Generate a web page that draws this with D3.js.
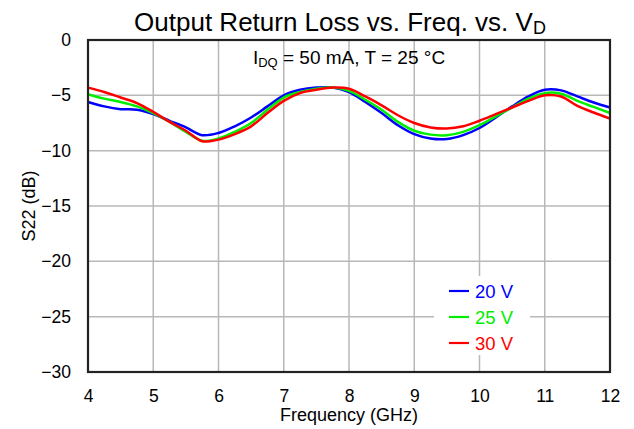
<!DOCTYPE html>
<html lang="en">
<head>
<meta charset="UTF-8">
<title>Output Return Loss vs. Freq. vs. VD</title>
<script src="https://cdn.jsdelivr.net/npm/d3@7"></script>
<style>
  body { margin: 0; background: #fff; }
  text { font-family: "Liberation Sans", Arial, sans-serif; fill: #000; }
  .grid line { stroke: #b8b8b8; stroke-width: 1.5px; }
</style>
</head>
<body>
<svg width="634" height="429"></svg>
<script>
// frequency points (GHz)
var freq = [4, 4.25, 4.5, 4.75, 5, 5.25, 5.5, 5.75, 6, 6.25, 6.5, 6.75, 7, 7.25, 7.5, 7.75,
            8, 8.25, 8.5, 8.75, 9, 9.25, 9.5, 9.75, 10, 10.25, 10.5, 10.75, 11, 11.25, 11.5, 11.75, 12];

// S22 (dB) per drain voltage
var s22_20V = [-5.6, -6.0, -6.25, -6.3, -6.7, -7.3, -7.9, -8.6, -8.4, -7.8, -7.0, -6.0, -5.0, -4.5, -4.3, -4.3,
               -4.7, -5.6, -6.6, -7.7, -8.5, -8.9, -8.95, -8.6, -7.95, -7.0, -6.0, -5.1, -4.5, -4.55, -5.1, -5.65, -6.1];
var s22_25V = [-4.9, -5.3, -5.6, -6.0, -6.6, -7.4, -8.3, -9.1, -8.9, -8.3, -7.5, -6.3, -5.2, -4.7, -4.4, -4.3,
               -4.6, -5.4, -6.3, -7.4, -8.2, -8.55, -8.6, -8.3, -7.7, -6.9, -6.1, -5.3, -4.8, -4.85, -5.5, -6.05, -6.6];
var s22_30V = [-4.3, -4.7, -5.2, -5.7, -6.5, -7.4, -8.2, -9.15, -9.0, -8.5, -7.8, -6.6, -5.5, -4.8, -4.5, -4.3,
               -4.4, -5.1, -5.9, -6.8, -7.5, -7.9, -8.0, -7.8, -7.3, -6.7, -6.1, -5.5, -5.0, -5.1, -5.95, -6.55, -7.1];

var seriesNames = ["20 V", "25 V", "30 V"];
var seriesColors = ["#0000ff", "#00ee00", "#ff0000"];

var xTicks = [4, 5, 6, 7, 8, 9, 10, 11, 12];
var yTicks = [0, -5, -10, -15, -20, -25, -30];

var svg = d3.select("svg");
var plot = { left: 88, right: 610, top: 40, bottom: 372 };

var x = d3.scaleLinear().domain([4, 12]).range([plot.left, plot.right]);
var y = d3.scaleLinear().domain([-30, 0]).range([plot.bottom, plot.top]);

// grid
var grid = svg.append("g").attr("class", "grid");
grid.selectAll(".vx").data(xTicks).enter().append("line")
    .attr("x1", function(d) { return x(d); }).attr("x2", function(d) { return x(d); })
    .attr("y1", plot.top).attr("y2", plot.bottom);
grid.selectAll(".hy").data(yTicks).enter().append("line")
    .attr("x1", plot.left).attr("x2", plot.right)
    .attr("y1", function(d) { return y(d); }).attr("y2", function(d) { return y(d); });

// axes (labels only, no tick marks)
var xAxis = svg.append("g")
    .attr("transform", "translate(0," + plot.bottom + ")")
    .call(d3.axisBottom(x).tickValues(xTicks).tickSize(0).tickPadding(18).tickFormat(d3.format("d")));
var yAxis = svg.append("g")
    .attr("transform", "translate(" + plot.left + ",0)")
    .call(d3.axisLeft(y).tickValues(yTicks).tickSize(0).tickPadding(17).tickFormat(d3.format("d")));
xAxis.select(".domain").remove();
yAxis.select(".domain").remove();
xAxis.attr("font-size", null).attr("font-family", null);
yAxis.attr("font-size", null).attr("font-family", null);
svg.selectAll(".tick text").style("font-size", "17.5px");

// curves
var allSeries = [s22_20V, s22_25V, s22_30V];
var line = d3.line()
    .x(function(d, i) { return x(freq[i]); })
    .y(function(d) { return y(d); })
    .curve(d3.curveCatmullRom);

svg.append("g").selectAll("path").data(allSeries).enter().append("path")
    .attr("d", line)
    .attr("fill", "none")
    .attr("stroke", function(d, i) { return seriesColors[i]; })
    .attr("stroke-width", 2.5);

// frame
svg.append("rect")
    .attr("x", plot.left).attr("y", plot.top)
    .attr("width", plot.right - plot.left).attr("height", plot.bottom - plot.top)
    .attr("fill", "none").attr("stroke", "#222").attr("stroke-width", 2.2);

// legend
var lg = svg.append("g");
lg.append("rect").attr("x", 434).attr("y", 276).attr("width", 96).attr("height", 79).attr("fill", "#fff");
seriesNames.forEach(function(name, i) {
    var ly = 291 + i * 26;
    lg.append("line").attr("x1", 449).attr("x2", 469).attr("y1", ly).attr("y2", ly)
        .attr("stroke", seriesColors[i]).attr("stroke-width", 2.2);
    lg.append("text").attr("x", 475).attr("y", ly + 6.5).text(name)
        .style("font-size", "18.5px").style("fill", seriesColors[i]);
});

// title
var title = svg.append("text")
    .attr("x", 340).attr("y", 31).attr("text-anchor", "middle")
    .style("font-size", "26px");
title.append("tspan").text("Output Return Loss vs. Freq. vs. V");
title.append("tspan").attr("dy", 3).style("font-size", "18px").text("D");

// condition note
var note = svg.append("text")
    .attr("x", 349).attr("y", 64).attr("text-anchor", "middle")
    .style("font-size", "19px");
note.append("tspan").text("I");
note.append("tspan").attr("dy", 3).style("font-size", "13px").text("DQ");
note.append("tspan").attr("dy", -3).text(" = 50 mA, T = 25 °C");

// axis titles
svg.append("text")
    .attr("x", (plot.left + plot.right) / 2).attr("y", 421).attr("text-anchor", "middle")
    .style("font-size", "18px").text("Frequency (GHz)");
svg.append("text")
    .attr("transform", "translate(35," + ((plot.top + plot.bottom) / 2) + ") rotate(-90)")
    .attr("text-anchor", "middle")
    .style("font-size", "18px").text("S22 (dB)");
</script>
</body>
</html>
